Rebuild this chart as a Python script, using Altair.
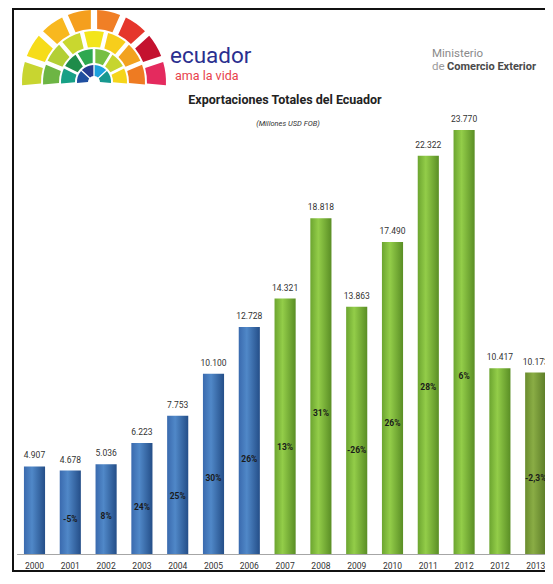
import altair as alt
import pandas as pd

# ---------------- data ----------------
years = ["2000", "2001", "2002", "2003", "2004", "2005", "2006", "2007",
         "2008", "2009", "2010", "2011", "2012", "2012", "2013"]
valores = [4907, 4678, 5036, 6223, 7753, 10100, 12728, 14321,
           18818, 13863, 17490, 22322, 23770, 10417, 10173]
variacion = ["", "-5%", "8%", "24%", "25%", "30%", "26%", "13%",
             "31%", "-26%", "26%", "28%", "6%", "", "-2,3%"]

logo_ring0 = ["#1F4FA0", "#253C91", "#1BA1DC", "#17988F"]
logo_ring1 = ["#17A085", "#1E8C4A", "#2FA84F", "#77BF43", "#C6D52F", "#F5D51A"]
logo_ring2 = ["#6DB544", "#B3CF35", "#C9D72F", "#F3E51A", "#F7CE1B", "#F2A21F", "#EE7B22"]
logo_ring3 = ["#C8D530", "#F6DC1A", "#F8B81F", "#F59F1E", "#F07F26", "#E5362C", "#C4122F", "#E42A5E"]

n = len(years)
grupo = ["azul" if i <= 6 else ("oliva" if i == n - 1 else "verde") for i in range(n)]
df = pd.DataFrame({
    "idx": list(range(n)),
    "anio": years,
    "valor": valores,
    "valor_txt": [f"{v:,}".replace(",", ".") for v in valores],
    "var": variacion,
    "grupo": grupo,
})

rings = [logo_ring0, logo_ring1, logo_ring2, logo_ring3]
logo_rows = []
for r, cols in enumerate(rings):
    for k, c in enumerate(cols):
        logo_rows.append({"ring": r, "ord": k, "color": c})
logo_df = pd.DataFrame(logo_rows)

one = pd.DataFrame({"a": [0]})

FONT = "Roboto, 'Liberation Sans', sans-serif"
W, H = 537, 546

label_expr = "[" + ",".join(f"'{y}'" for y in years) + "][datum.value]"

x_enc = alt.X(
    "idx:O",
    scale=alt.Scale(range=[8.6, 545.6], paddingInner=0.41, paddingOuter=0.205),
    axis=alt.Axis(labelExpr=label_expr, title=None, ticks=False, grid=False,
                  domainColor="#A6A6A6", domainWidth=1.2, labelFont=FONT,
                  labelFontSize=8.5, labelColor="#333333", labelPadding=7,
                  labelAngle=0),
)
y_enc = alt.Y("valor:Q", scale=alt.Scale(domain=[0, 30610], nice=False), axis=None)


def grad(c_left, c_mid, c_right):
    return alt.LinearGradient(
        gradient="linear", x1=0, x2=1, y1=0, y2=0,
        stops=[alt.GradientStop(offset=0, color=c_left),
               alt.GradientStop(offset=0.38, color=c_mid),
               alt.GradientStop(offset=1, color=c_right)])


base = alt.Chart(df)
bars = []
for g, gr in [("azul", grad("#3A6AAE", "#5088C8", "#244E88")),
              ("verde", grad("#6CA530", "#93CD49", "#5A8E25")),
              ("oliva", grad("#6A8C2E", "#8AAD45", "#5A7A26"))]:
    bars.append(
        base.transform_filter(f"datum.grupo == '{g}'")
        .mark_bar(color=gr, clip=True)
        .encode(x=x_enc, y=y_enc)
    )

val_text = base.mark_text(font=FONT, fontSize=8.5, color="#333333",
                          baseline="bottom", dy=-6).encode(
    x=x_enc, y=y_enc, text="valor_txt:N")

pct_text = base.transform_filter("datum.var != ''").transform_calculate(
    ypos="datum.valor * 0.42").mark_text(
    font=FONT, fontSize=8.5, fontWeight="bold", color="#1A1A1A").encode(
    x=x_enc, y=alt.Y("ypos:Q"), text="var:N")

# ---------------- logo fan ----------------
radii = [(6, 17), (19, 33), (35, 51), (53, 72)]
logo_layers = []
for r, (r0, r1) in enumerate(radii):
    logo_layers.append(
        alt.Chart(logo_df).transform_filter(f"datum.ring == {r}")
        .transform_joinaggregate(cnt="count()")
        .transform_calculate(frac="1 / datum.cnt")
        .mark_arc(radius=r1, radius2=r0, padAngle=0.07)
        .encode(
            theta=alt.Theta("frac:Q", stack=True,
                            scale=alt.Scale(domain=[0, 1], range=[-1.66, 1.66])),
            order=alt.Order("ord:Q"),
            color=alt.Color("color:N", scale=None),
            x=alt.value(86), y=alt.value(74),
        )
    )

ann = alt.Chart(one)
texts = [
    ann.mark_text(text="ecuador", font=FONT, fontSize=22.5, color="#2B2F8F",
                  align="left", baseline="alphabetic").encode(x=alt.value(162), y=alt.value(55)),
    ann.mark_text(text="ama la vida", font=FONT, fontSize=12.5, color="#E8414B",
                  align="left", baseline="alphabetic").encode(x=alt.value(167), y=alt.value(72)),
    ann.mark_text(text="Ministerio", font=FONT, fontSize=11.5, color="#8A8A8A",
                  align="left", baseline="alphabetic").encode(x=alt.value(424), y=alt.value(49)),
    ann.mark_text(text="de", font=FONT, fontSize=11.5, color="#9A9A9A",
                  align="left", baseline="alphabetic").encode(x=alt.value(424), y=alt.value(62)),
    ann.mark_text(text="Comercio Exterior", font=FONT, fontSize=11, fontWeight="bold",
                  color="#4A4A4A", align="left", baseline="alphabetic").encode(
        x=alt.value(439), y=alt.value(62)),
    ann.mark_text(text="Exportaciones Totales del Ecuador", font=FONT, fontSize=12.5,
                  fontWeight="bold", color="#222222", align="center",
                  baseline="middle").encode(x=alt.value(277), y=alt.value(92)),
    ann.mark_text(text="(Millones USD FOB)", font=FONT, fontSize=7.5, fontStyle="italic",
                  color="#333333", align="center", baseline="middle").encode(
        x=alt.value(280), y=alt.value(116)),
]

frame = [
    ann.mark_rule(color="#111111", strokeWidth=2).encode(
        x=alt.value(5), y=alt.value(0), y2=alt.value(564)),
    ann.mark_rule(color="#111111", strokeWidth=2).encode(
        x=alt.value(4), x2=alt.value(537), y=alt.value(1)),
    ann.mark_rule(color="#111111", strokeWidth=2).encode(
        x=alt.value(4), x2=alt.value(537), y=alt.value(563)),
]

chart = alt.layer(*bars, val_text, pct_text, *logo_layers, *texts, *frame).properties(
    width=W, height=H,
    padding={"left": 0, "top": 0, "right": 0, "bottom": 18},
    autosize=alt.AutoSizeParams(type="none"),
    background="white",
).configure_view(strokeWidth=0)

chart.save("out.html", embed_options={"renderer": "svg", "actions": False})
